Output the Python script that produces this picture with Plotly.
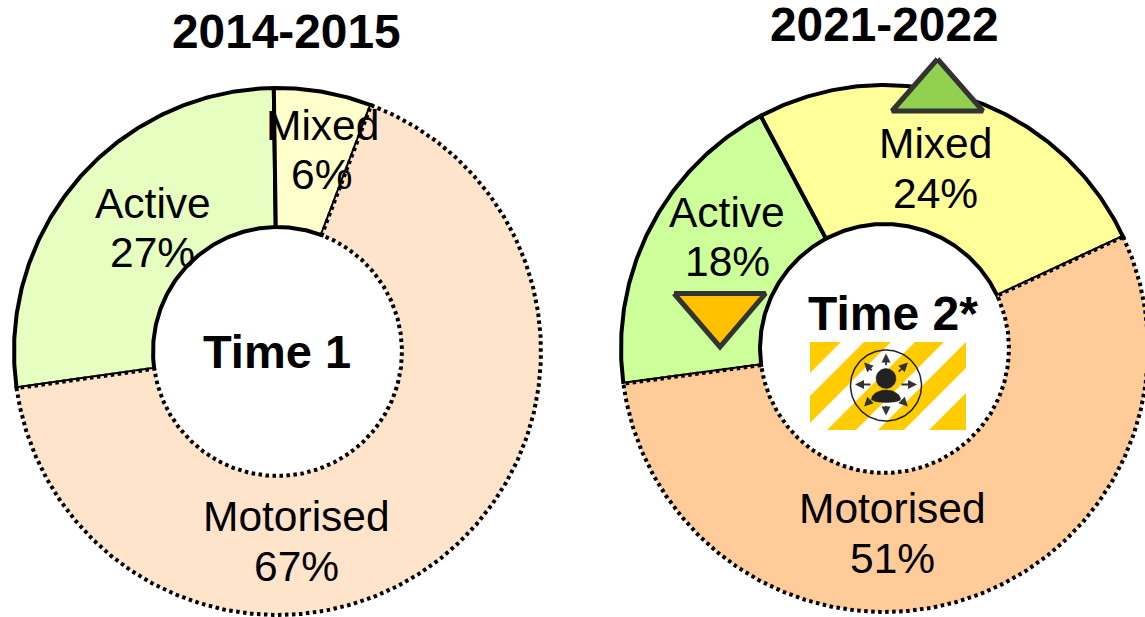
import numpy as np
import plotly.graph_objects as go

# ---- data ----
categories = ["Mixed", "Motorised", "Active"]
shares_t1 = [6, 67, 27]
shares_t2 = [24, 51, 18]
titles = ["2014-2015", "2021-2022"]
centre_labels = ["Time 1", "Time 2*"]
colors_t1 = ["#FFFFCC", "#FFE4CC", "#E6FFC0"]
colors_t2 = ["#FFFF99", "#FFCC99", "#CCFF99"]

W, H = 1145, 617
R_OUT, R_IN = 263.5, 124.5
FONT = "Liberation Sans, Arial, sans-serif"
DOT = "3.5px,3.5px"


def pt(cx, cy, r, deg):
    a = np.radians(deg)
    return cx + r * np.sin(a), cy - r * np.cos(a)


def wedge(cx, cy, a0, a1):
    n = max(int(abs(a1 - a0) * 2), 2)
    th = np.linspace(a0, a1, n)
    xo, yo = pt(cx, cy, R_OUT, th)
    xi, yi = pt(cx, cy, R_IN, th[::-1])
    return np.r_[xo, xi, xo[0]], np.r_[yo, yi, yo[0]]


fig = go.Figure()


def donut(vals, cols, cx, cy, rotation):
    total = sum(vals)
    spans = [v / total * 360 for v in vals]
    starts = rotation + np.r_[0, np.cumsum(spans)[:-1]]
    # solid slices first, the dotted motorised slice on top
    for i in (2, 0, 1):
        x, y = wedge(cx, cy, starts[i], starts[i] + spans[i])
        dotted = categories[i] == "Motorised"
        fig.add_trace(go.Scatter(
            x=x, y=y, mode="lines", fill="toself", fillcolor=cols[i],
            name=f"{categories[i]} {vals[i]}%", hoverinfo="name",
            line=dict(color="#000000", width=4,
                      dash=DOT if dotted else "solid"),
        ))


donut(shares_t1, colors_t1, 277.5, 351.5, -0.8)
donut(shares_t2, colors_t2, 884.5, 348.5, -28)

# change markers
fig.add_trace(go.Scatter(x=[937.5, 983, 892, 937.5], y=[59, 111, 111, 59], mode="lines", fill="toself",
                         fillcolor="#92D050", line=dict(color="#333333", width=5), hoverinfo="skip"))
fig.add_trace(go.Scatter(x=[674, 765.5, 720, 674], y=[293.5, 293.5, 346.8, 293.5], mode="lines", fill="toself",
                         fillcolor="#FFC000", line=dict(color="#333333", width=5), hoverinfo="skip"))


# striped badge
def clip_band(u0, u1, x0=810, y0=342, w=156, h=88):
    poly = [(0, 0), (w, 0), (w, h), (0, h)]
    for sign, lim in ((1, u0), (-1, -u1)):
        out = []
        for j, p in enumerate(poly):
            q = poly[(j + 1) % len(poly)]
            dp = sign * (p[0] + p[1]) - lim
            dq = sign * (q[0] + q[1]) - lim
            if dp >= 0:
                out.append(p)
            if dp * dq < 0:
                t = dp / (dp - dq)
                out.append((p[0] + t * (q[0] - p[0]), p[1] + t * (q[1] - p[1])))
        poly = out
    return [(x0 + a, y0 + b) for a, b in poly]


sx, sy = [], []
for u0, u1 in [(0, 31), (54, 81), (105, 134), (156, 182), (207, 245)]:
    band = clip_band(u0, u1)
    sx += [p[0] for p in band] + [band[0][0], None]
    sy += [p[1] for p in band] + [band[0][1], None]
fig.add_trace(go.Scatter(x=sx, y=sy, mode="lines", fill="toself", fillcolor="#FFCC00",
                         line=dict(width=0, color="#FFCC00"), hoverinfo="skip"))

ICX, ICY = 886, 385.5
th = np.linspace(0, 360, 121)
cx_, cy_ = pt(ICX, ICY, 35.5, th)
fig.add_trace(go.Scatter(x=cx_, y=cy_, mode="lines", line=dict(color="#222222", width=1.5), hoverinfo="skip"))
hx, hy = pt(ICX, 378.5, 10, th)
fig.add_trace(go.Scatter(x=hx, y=hy, mode="lines", fill="toself", fillcolor="#222222",
                         line=dict(color="#222222", width=0.5), hoverinfo="skip"))
bth = np.linspace(0, 360, 61)
bx = ICX + 14.5 * np.sin(np.radians(bth))
bc = np.cos(np.radians(bth))
by = 399.5 - np.where(bc > 0, 9.5, 3) * bc
fig.add_trace(go.Scatter(x=bx, y=by, mode="lines", fill="toself", fillcolor="#222222",
                         line=dict(color="#222222", width=0.5), hoverinfo="skip"))

# texts
T = []


def txt(x, y, s, size=42.5, bold=False, color="#000000", **kw):
    T.append(dict(x=x, y=y, xref="x", yref="y", text=f"<b>{s}</b>" if bold else s, showarrow=False,
                  xanchor="center", yanchor="middle", font=dict(family=FONT, size=size, color=color), **kw))


txt(286, 31, titles[0], 47.8, True)
txt(884, 24, titles[1], 47.8, True, height=44)
txt(277, 351, centre_labels[0], 47, True)
txt(892.5, 313, centre_labels[1], 48, True)
for (x, y, s) in [
    (153, 203, categories[2]), (152, 252, f"{shares_t1[2]}%"),
    (322, 125, categories[0]), (321, 174, f"{shares_t1[0]}%"),
    (296, 516, categories[1]), (296, 566, f"{shares_t1[1]}%"),
    (727, 212, categories[2]), (727, 261, f"{shares_t2[2]}%"),
    (935, 143, categories[0]), (935, 193, f"{shares_t2[0]}%"),
    (892, 508, categories[1]), (892, 558, f"{shares_t2[1]}%"),
]:
    txt(x, y, s)

# arrows round the person icon
for deg, r0 in [(0, 18), (45, 16), (90, 14), (135, 20), (180, 20), (225, 20), (270, 14), (315, 18)]:
    x0, y0 = pt(ICX, ICY - 1, r0, deg)
    x1, y1 = pt(ICX, ICY - 1, 31, deg)
    T.append(dict(x=float(x1), y=float(y1), ax=float(x0), ay=float(y0), xref="x", yref="y", axref="x", ayref="y",
                  text="", showarrow=True, arrowhead=2, arrowsize=1, arrowwidth=1.8, arrowcolor="#333333"))

fig.update_layout(
    width=W, height=H, margin=dict(l=0, r=0, t=0, b=0), showlegend=False,
    paper_bgcolor="white", plot_bgcolor="white", annotations=T,
    xaxis=dict(range=[0, W], visible=False, fixedrange=True),
    yaxis=dict(range=[H, 0], visible=False, fixedrange=True),
)
fig.write_html("out.html", config={"displayModeBar": False},
               post_script="document.body.style.margin='0';document.body.style.overflow='hidden';")
